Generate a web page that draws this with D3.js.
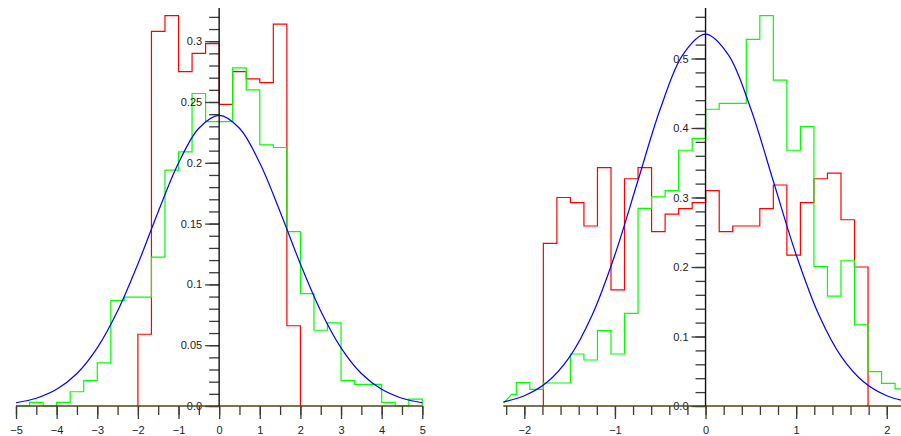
<!DOCTYPE html>
<html>
<head>
<meta charset="utf-8">
<script src="https://cdn.jsdelivr.net/npm/d3@7"></script>
<style>
  body { margin: 0; background: #fff; }
  svg { display: block; }
  text { font-family: "Liberation Sans", Arial, sans-serif; font-size: 11px; fill: #222; }
</style>
</head>
<body>
<div id="chart"></div>
<script>
// ---- left panel data (bin width 1/3) ----
var leftRedStart = -2;
var leftRedValues = [0.059, 0.308, 0.321, 0.275, 0.290, 0.298, 0.248, 0.275, 0.269, 0.266, 0.314, 0.066];
var leftGreenStart = -5;
var leftGreenValues = [0, 0.003, 0, 0.003, 0.0117, 0.0208, 0.0355, 0.0866, 0.0896, 0.0896,
                       0.1224, 0.194, 0.209, 0.257, 0.2338, 0.2338, 0.278, 0.260, 0.2148, 0.2126,
                       0.1434, 0.0924, 0.0623, 0.0683, 0.0208, 0.0178, 0.0178, 0.003, 0, 0.0057];
var leftBinWidth = 1 / 3;
var leftCurveX = [-5, -4.5, -4, -3.5, -3, -2.5, -2, -1.5, -1, -0.5, 0, 0.5, 1, 1.5, 2, 2.5, 3, 3.5, 4, 4.5, 5];
var leftCurveY = [0.0027, 0.0064, 0.0137, 0.0267, 0.0478, 0.0781, 0.1168, 0.1598, 0.1998, 0.2284, 0.239,
                  0.2284, 0.1998, 0.1598, 0.1168, 0.0781, 0.0478, 0.0267, 0.0137, 0.0064, 0.0027];
var leftXMajor = [-5, -4, -3, -2, -1, 0, 1, 2, 3, 4, 5];
var leftYMajor = [0, 0.05, 0.1, 0.15, 0.2, 0.25, 0.3];

// ---- right panel data (bin width ~0.149) ----
var rightBinWidth = 0.1493;
var rightRedStart = -1.79;
var rightRedValues = [0.234, 0.300, 0.2925, 0.259, 0.343, 0.167, 0.327, 0.343, 0.251, 0.276, 0.284, 0.2925,
                      0.310, 0.251, 0.259, 0.259, 0.284, 0.318, 0.217, 0.2925, 0.327, 0.335, 0.268, 0.200];
// green begins with a slanted piece, then steps on the bin grid
var rightGreenLead = [[-2.23, 0.004], [-2.14, 0.0168]];
var rightGreenStart = -1.79 - 2 * 0.1493;
var rightGreenValues = [0.0335, 0.024, 0.0331, 0.0331, 0.0748, 0.0662, 0.1084, 0.0748, 0.1333, 0.2844,
                        0.301, 0.310, 0.368, 0.385, 0.427, 0.4355, 0.4355, 0.5276, 0.5616, 0.469,
                        0.368, 0.402, 0.2005, 0.158, 0.209, 0.1166, 0.0494, 0.0326, 0.0245];
var rightCurveX = [-2.23, -2, -1.75, -1.5, -1.25, -1, -0.75, -0.5, -0.25, 0, 0.25, 0.5, 0.75, 1, 1.25, 1.5, 1.75, 2, 2.25];
var rightCurveY = [0.0060, 0.0147, 0.0341, 0.0707, 0.1313, 0.2177, 0.3226, 0.4273, 0.5057, 0.535,
                   0.5057, 0.4273, 0.3226, 0.2177, 0.1313, 0.0707, 0.0341, 0.0147, 0.0057];
var rightXMajor = [-2, -1, 0, 1, 2];
var rightYMajor = [0, 0.1, 0.2, 0.3, 0.4, 0.5];

var W = 901, H = 436;
var svg = d3.select("#chart").append("svg").attr("width", W).attr("height", H);

function stepPoints(start, width, values, lead) {
  var pts = lead ? lead.slice() : [[start, 0]];
  values.forEach(function (v, i) {
    pts.push([start + i * width, v]);
    pts.push([start + (i + 1) * width, v]);
  });
  pts.push([start + values.length * width, 0]);
  return pts;
}

function yLabel(d) {
  return d === 0 ? "0.0" : String(+d.toFixed(2));
}

function panel(opt) {
  var x = d3.scaleLinear().domain(opt.xDomain).range(opt.xRange);
  var y = d3.scaleLinear().domain(opt.yDomain).range([406, 8]);
  var g = svg.append("g");

  var line = d3.line().x(function (d) { return x(d[0]); }).y(function (d) { return y(d[1]); });

  g.append("path").attr("d", line(opt.red)).attr("fill", "none")
    .attr("stroke", "#ff0000").attr("stroke-width", 1.2);
  g.append("path").attr("d", line(opt.green)).attr("fill", "none")
    .attr("stroke", "#00ff00").attr("stroke-width", 1.2);

  var curve = d3.line().curve(d3.curveCatmullRom)
    .x(function (d) { return x(d[0]); }).y(function (d) { return y(d[1]); });
  g.append("path").attr("d", curve(opt.curve)).attr("fill", "none")
    .attr("stroke", "#0000ff").attr("stroke-width", 1.2);

  // x axis: minor + major ticks
  g.append("g").attr("transform", "translate(0,406)")
    .call(d3.axisBottom(x).tickValues(opt.xMinor).tickSize(9).tickFormat(""));
  g.append("g").attr("transform", "translate(0,406)")
    .call(d3.axisBottom(x).tickValues(opt.xMajor).tickSize(13).tickPadding(7).tickFormat(d3.format("d")));

  // y axis sits at x = 0
  var x0 = x(0);
  g.append("g").attr("transform", "translate(" + x0 + ",0)")
    .call(d3.axisLeft(y).tickValues(opt.yMinor).tickSize(10).tickFormat(""));
  g.append("g").attr("transform", "translate(" + x0 + ",0)")
    .call(d3.axisLeft(y).tickValues(opt.yMajor).tickSize(14).tickPadding(3).tickFormat(yLabel));

  g.selectAll(".domain").remove();
  g.selectAll(".tick line").attr("stroke", "#3a3a3a").attr("stroke-width", 1.3);
  g.selectAll(".tick text").attr("font-size", 11).attr("font-family", "Liberation Sans, Arial, sans-serif").attr("fill", "#222");

  g.append("line").attr("x1", opt.xRange[0]).attr("x2", opt.xRange[1])
    .attr("y1", 406).attr("y2", 406).attr("stroke", "#4d4418").attr("stroke-width", 1.4);
  g.append("line").attr("x1", x0).attr("x2", x0).attr("y1", 406).attr("y2", 8)
    .attr("stroke", "#111").attr("stroke-width", 1.4);
}

panel({
  xDomain: [-5, 5], xRange: [16, 422.3], yDomain: [0, 398 / 1216],
  red: stepPoints(leftRedStart, leftBinWidth, leftRedValues),
  green: stepPoints(leftGreenStart, leftBinWidth, leftGreenValues),
  curve: leftCurveX.map(function (v, i) { return [v, leftCurveY[i]]; }),
  xMinor: d3.range(-5, 5.01, 0.5), xMajor: leftXMajor,
  yMinor: d3.range(0, 33).map(function (i) { return i / 100; }), yMajor: leftYMajor
});

panel({
  xDomain: [-2.232, 2.157], xRange: [503.3, 901], yDomain: [0, 398 / 695],
  red: stepPoints(rightRedStart, rightBinWidth, rightRedValues),
  green: stepPoints(rightGreenStart, rightBinWidth, rightGreenValues, rightGreenLead.concat([[rightGreenStart, rightGreenLead[1][1]]])),
  curve: rightCurveX.map(function (v, i) { return [v, rightCurveY[i]]; }),
  xMinor: d3.range(-11, 11).map(function (i) { return i / 5; }), xMajor: rightXMajor,
  yMinor: d3.range(0, 29).map(function (i) { return i / 50; }), yMajor: rightYMajor
});
</script>
</body>
</html>
